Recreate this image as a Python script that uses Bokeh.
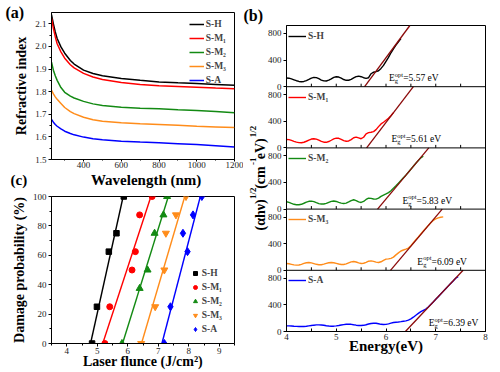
from bokeh.plotting import figure
from bokeh.layouts import row, column
from bokeh.models import (Range1d, FixedTicker, PrintfTickFormatter, Legend,
                          LegendItem, Label, Span, Title)
from bokeh.embed import file_html
from bokeh.resources import INLINE

FONT = "Liberation Serif"
NB = "\u00a0"
SERIES = ["S-H", "S-M\u2081", "S-M\u2082", "S-M\u2083", "S-A"]
COLORS = ["#000000", "#ff0000", "#138a13", "#ff8c1a", "#0000ff"]
TANGENT_COLOR = "#8b0a0a"

# ---------------- (a) refractive index ----------------
WAVELENGTH = [230, 240, 250, 260, 280, 300, 330, 350, 400, 450, 500, 600, 700, 800, 900, 1000, 1100, 1200]
N_SH = [2.140, 2.100, 2.064, 2.035, 1.998, 1.970, 1.938, 1.922, 1.895, 1.880, 1.870, 1.858, 1.850, 1.843, 1.839, 1.836, 1.832, 1.828]
N_SM1 = [2.125, 2.080, 2.043, 2.012, 1.976, 1.948, 1.919, 1.905, 1.881, 1.865, 1.854, 1.840, 1.832, 1.826, 1.823, 1.820, 1.816, 1.813]
N_SM2 = [1.930, 1.895, 1.870, 1.850, 1.818, 1.797, 1.780, 1.772, 1.757, 1.746, 1.739, 1.731, 1.727, 1.724, 1.720, 1.717, 1.712, 1.707]
N_SM3 = [1.806, 1.790, 1.777, 1.766, 1.748, 1.730, 1.712, 1.703, 1.687, 1.676, 1.669, 1.662, 1.658, 1.655, 1.651, 1.647, 1.644, 1.641]
N_SA = [1.677, 1.665, 1.655, 1.647, 1.635, 1.625, 1.615, 1.609, 1.599, 1.592, 1.587, 1.581, 1.577, 1.574, 1.570, 1.566, 1.561, 1.555]
INDEX = [N_SH, N_SM1, N_SM2, N_SM3, N_SA]
A_XTICKS = [400, 600, 800, 1000, 1200]
A_XMINOR = [300, 500, 700, 900, 1100]
A_YTICKS = [1.5, 1.6, 1.7, 1.8, 1.9, 2.0, 2.1]
A_YMINOR = [1.55, 1.65, 1.75, 1.85, 1.95, 2.05]

# ---------------- (b) Tauc plots ----------------
ENERGY = [4.00, 4.05, 4.10, 4.15, 4.20, 4.25, 4.30, 4.35, 4.40, 4.45,
          4.50, 4.55, 4.60, 4.65, 4.70, 4.75, 4.80, 4.85, 4.90, 4.95,
          5.00, 5.05, 5.10, 5.15, 5.20, 5.25, 5.30, 5.35, 5.40, 5.45,
          5.50, 5.55, 5.60, 5.65, 5.70, 5.75, 5.80, 5.85, 5.90, 5.95,
          6.00, 6.05, 6.10, 6.15, 6.20, 6.25, 6.30, 6.35, 6.40, 6.45,
          6.50, 6.55, 6.60, 6.65, 6.70, 6.75, 6.80, 6.85, 6.90, 6.95,
          7.00, 7.05, 7.10, 7.15, 7.20, 7.25, 7.30, 7.35, 7.40, 7.45]
AHV_SH = [130, 128, 118, 104, 90, 79, 75, 79, 92, 110,
          130, 140, 136, 120, 100, 87, 86, 98, 118, 140,
          150, 145, 128, 108, 96, 97, 110, 132, 152, 158,
          150, 135, 126, 135, 195, 218, 226, 240, 275, 320,
          380, 440, 510, 570, 625, 675, 725]
AHV_SM1 = [127, 124, 112, 98, 86, 79, 78, 85, 100, 118,
           133, 138, 132, 116, 98, 86, 84, 96, 115, 135,
           147, 144, 128, 110, 100, 104, 125, 152, 162, 150,
           138, 160, 212, 230, 236, 245, 275, 320, 360, 385,
           415, 445, 485, 530]
AHV_SM2 = [110, 100, 85, 72, 66, 65, 72, 88, 105, 117,
           120, 112, 97, 83, 76, 76, 86, 102, 116, 121,
           115, 102, 90, 85, 90, 108, 128, 140, 128, 108,
           100, 115, 145, 165, 162, 152, 150, 165, 192, 210,
           228, 248, 275, 315, 350, 390, 430, 470, 510, 555,
           600, 645, 690, 730, 770, 795]
AHV_SM3 = [102, 98, 90, 82, 78, 80, 90, 103, 114, 117,
           112, 101, 90, 84, 84, 92, 104, 114, 117, 114,
           104, 94, 88, 87, 96, 112, 127, 132, 125, 112,
           103, 106, 120, 137, 142, 135, 123, 117, 128, 150,
           168, 172, 180, 198, 232, 262, 290, 305, 318, 335,
           370, 415, 458, 500, 545, 590, 632, 675, 715, 750,
           772, 788, 798, 803]
AHV_SA = [85, 84, 82, 79, 77, 76, 75, 75, 78, 84,
          90, 95, 99, 100, 98, 93, 87, 82, 80, 80,
          84, 90, 97, 104, 109, 110, 108, 101, 95, 91,
          90, 93, 102, 112, 121, 125, 124, 116, 108, 105,
          107, 115, 125, 135, 140, 143, 148, 155, 160, 172,
          190, 215, 245, 272, 298, 318, 338, 368, 405, 444,
          484, 523, 563, 603, 642, 682, 721, 760, 800, 825]
AHV = [AHV_SH, AHV_SM1, AHV_SM2, AHV_SM3, AHV_SA]
EG = [5.57, 5.61, 5.83, 6.09, 6.39]
TANGENT_TOP_E = [6.48, 6.55, 6.86, 7.13, 7.55]
B_YMAX = 920
B_XTICKS = [4, 5, 6, 7, 8]
B_XMINOR = [4.5, 5.5, 6.5, 7.5]
B_YTICKS = [0, 400, 800]
SEP_TICKS = [4.5, 5, 5.5, 6, 6.5, 7, 7.5]

# ---------------- (c) damage probability ----------------
F_SH = [4.83, 4.99, 5.38, 5.63, 5.87]
P_SH = [0, 25, 62.5, 75, 100]
F_SM1 = [5.25, 5.41, 6.14, 6.25, 6.39, 6.80]
P_SM1 = [0, 25, 50, 62.5, 87.5, 100]
F_SM2 = [5.81, 6.39, 6.65, 6.88, 7.17, 7.29]
P_SM2 = [0, 37.5, 50, 75, 87.5, 100]
F_SM3 = [6.44, 6.90, 7.20, 7.25, 7.58, 7.91]
P_SM3 = [0, 25, 50, 75, 87.5, 100]
F_SA = [7.20, 7.40, 7.96, 7.81, 8.14, 8.43]
P_SA = [0, 25, 62.5, 75, 87.5, 100]
FLUENCE = [F_SH, F_SM1, F_SM2, F_SM3, F_SA]
PROB = [P_SH, P_SM1, P_SM2, P_SM3, P_SA]
FIT_X0 = [4.78, 5.18, 5.83, 6.45, 7.12]
FIT_X100 = [5.85, 6.76, 7.33, 7.87, 8.38]
C_XTICKS = [4, 5, 6, 7, 8, 9]
C_XMINOR = [3.5, 4.5, 5.5, 6.5, 7.5, 8.5, 9.5]
C_YTICKS = [0, 20, 40, 60, 80, 100]
C_YMINOR = [10, 30, 50, 70, 90]
MARKERS = ["square", "circle", "triangle", "inverted_triangle", "diamond"]
MSIZES = [5.5, 6, 7, 7, 8]


class Geo:
    def __init__(self, cx, cy, w, h, fl, fr, ft, fbot, xr, yr):
        self.cx, self.cy, self.w, self.h = cx, cy, w, h
        self.fl, self.fr, self.ft, self.fb = fl, fr, ft, fbot
        self.xr, self.yr = xr, yr

    def dy(self, dpx):
        return dpx / (self.fb - self.ft) * (self.yr[1] - self.yr[0])


# page coordinates (the page is drawn from its top-left corner)
GA = Geo(0, 0, 243, 171, 51, 234, 12, 159, (230, 1200), (1.5, 2.15))
GC = Geo(0, 171, 243, 201, 51, 234, 196, 343, (3.5, 9.5), (0, 100))
GB = Geo(243, 0, 257, 372, 286, 485, 25, 331, (4, 8), (0, 5 * B_YMAX))


def make_fig(g):
    p = figure(width=g.w, height=g.h, x_range=Range1d(*g.xr), y_range=Range1d(*g.yr),
               output_backend="svg", toolbar_location=None, title=None,
               min_border_left=g.fl - g.cx, min_border_right=g.cx + g.w - g.fr,
               min_border_top=g.ft - g.cy, min_border_bottom=g.cy + g.h - g.fb)
    p.grid.visible = False
    p.outline_line_color = "black"
    p.outline_line_width = 1
    p.border_fill_color = "white"
    p.background_fill_color = "white"
    for ax in p.axis:
        ax.axis_line_color = "black"
        ax.major_tick_line_color = "black"
        ax.minor_tick_line_color = "black"
        ax.major_tick_out = 3
        ax.major_tick_in = 0
        ax.minor_tick_out = 2
        ax.minor_tick_in = 0
        ax.major_label_standoff = 2
        ax.major_label_text_font = FONT
        ax.major_label_text_font_size = "9px"
        ax.major_label_text_color = "#222222"
        ax.axis_label_text_font = FONT
        ax.axis_label_text_font_style = "bold"
        ax.axis_label_text_font_size = "14px"
        ax.axis_label_text_color = "black"
        ax.axis_label_standoff = 3
    return p


def title(p, text, size, place, align="left", offset=0, valign="bottom", standoff=0):
    p.add_layout(Title(text=text, text_font=FONT, text_font_size=f"{size}px",
                       text_font_style="bold", text_color="black", align=align,
                       offset=offset, vertical_align=valign, standoff=standoff), place)


def legend(items, loc, glyph_w, pad):
    return Legend(items=items, location=loc, margin=0, padding=pad, spacing=2,
                  glyph_width=glyph_w, glyph_height=12, label_height=12, label_standoff=2,
                  label_text_font=FONT, label_text_font_style="bold",
                  label_text_font_size="9.5px", border_line_color=None,
                  background_fill_alpha=0)


# ---------- figure (a)
fa = make_fig(GA)
fa.xaxis.ticker = FixedTicker(ticks=A_XTICKS, minor_ticks=A_XMINOR)
fa.yaxis.ticker = FixedTicker(ticks=A_YTICKS, minor_ticks=A_YMINOR)
fa.yaxis.formatter = PrintfTickFormatter(format="%.1f")
fa.xaxis.major_tick_out = 2
fa.xaxis.minor_tick_out = 1
fa.xaxis.major_label_standoff = 0
fa.yaxis.axis_label = "Refractive index"
ra = [fa.line(WAVELENGTH, INDEX[i], line_color=COLORS[i], line_width=1.5) for i in range(5)]
fa.add_layout(legend([LegendItem(label=SERIES[i], renderers=[ra[i]]) for i in range(5)],
                     (191.7 - 3 - GA.fl, GA.fb - (20.7 - 9 + 74)), 15, 3))
title(fa, "(a)", 16, "above", offset=5 - GA.fl, valign="bottom", standoff=-16)

# ---------- figure (c)
fc = make_fig(GC)
fc.xaxis.ticker = FixedTicker(ticks=C_XTICKS, minor_ticks=C_XMINOR)
fc.yaxis.ticker = FixedTicker(ticks=C_YTICKS, minor_ticks=C_YMINOR)
fc.xaxis.major_label_standoff = 1
fc.xaxis.axis_label = "Laser flunce (J/cm\u00b2)"
fc.xaxis.axis_label_standoff = -3
fc.yaxis.axis_label = "Damage probability (%)"
rc = []
for i in range(5):
    fc.line([FIT_X0[i], FIT_X100[i]], [0, 100], line_color=COLORS[i], line_width=1.4)
    rc.append(fc.scatter(FLUENCE[i], PROB[i], marker=MARKERS[i], size=MSIZES[i],
                         fill_color=COLORS[i], line_color=COLORS[i]))
fc.add_layout(legend([LegendItem(label=SERIES[i], renderers=[rc[i]]) for i in range(5)],
                     (197.7 - 5 - 3 - GC.fl, GC.fb - 335), 10, 3))
# thin spacer, then the line holding the panel letter (c) and the x title of (a)
title(fc, NB, 4, "above", valign="top", standoff=0)
title(fc, "(c)" + NB * 17 + "Wavelength (nm)", 15, "above", offset=10 - GC.fl,
      valign="top", standoff=0)

# ---------- figure (b)
fb = make_fig(GB)
fb.xaxis.ticker = FixedTicker(ticks=B_XTICKS, minor_ticks=B_XMINOR)
fb.yaxis.ticker = FixedTicker(ticks=[k * B_YMAX + t for k in range(5) for t in B_YTICKS])
fb.yaxis.major_label_overrides = {k * B_YMAX + t: str(t) for k in range(5) for t in B_YTICKS}
fb.xaxis.major_tick_in = 3
fb.xaxis.major_tick_out = 0
fb.xaxis.minor_tick_in = 3
fb.xaxis.minor_tick_out = 0
fb.xaxis.axis_label = "Energy(eV)"
fb.xaxis.axis_label_text_font_size = "15px"
fb.xaxis.axis_label_standoff = -5

EG_LABEL_X = [6.06, 6.11, 6.33, 6.63, 6.86]
panel_px = (GB.fb - GB.ft) / 5
for i in range(5):
    base = (4 - i) * B_YMAX
    vals = AHV[i]
    r = fb.line(ENERGY[:len(vals)], [v + base for v in vals], line_color=COLORS[i], line_width=1.4)
    fb.line([EG[i], TANGENT_TOP_E[i]], [base, base + B_YMAX], line_color=TANGENT_COLOR, line_width=1.3)
    top = GB.ft + i * panel_px
    fb.add_layout(legend([LegendItem(label=SERIES[i], renderers=[r])],
                         (2, GB.fb - (top + 16.5)), 18, 2))
    yb = base + GB.dy(8.6)
    x = EG_LABEL_X[i]
    for text, dx, dpy, fs in [("E", 0, 0, 9.5), ("g", 5.8, -2.6, 6.5), ("opt", 5.8, 3.8, 6.5),
                              (f"={EG[i]:.2f} eV", 14.2, 0, 9.5)]:
        fb.add_layout(Label(x=x, y=yb + GB.dy(dpy), x_offset=dx, text=text, text_font=FONT,
                            text_font_size=f"{fs}px", text_color="black",
                            text_baseline="alphabetic", text_align="left"))

for k in range(1, 5):
    fb.add_layout(Span(location=k * B_YMAX, dimension="width", line_color="black", line_width=1))
    fb.segment(x0=SEP_TICKS, y0=[k * B_YMAX] * len(SEP_TICKS), x1=SEP_TICKS,
               y1=[k * B_YMAX + GB.dy(3)] * len(SEP_TICKS), line_color="black", line_width=1)

# rotated y title of (b): main line plus a raised line of superscripts
ylab_offset = 101
title(fb, "(\u03b1h\u03bd)" + NB * 3 + "(cm" + NB * 2 + "eV)", 14, "left",
      offset=ylab_offset, valign="bottom", standoff=-6)
title(fb, NB * 14 + "1/2" + NB * 10 + "-1" + NB * 9 + "1/2", 9, "left",
      offset=ylab_offset, valign="bottom", standoff=-9)
title(fb, "(b)", 16, "above", offset=243 - GB.fl, valign="bottom", standoff=4)

layout = row(column(fa, fc), fb)
open("out.html", "w").write(file_html(layout, INLINE))
